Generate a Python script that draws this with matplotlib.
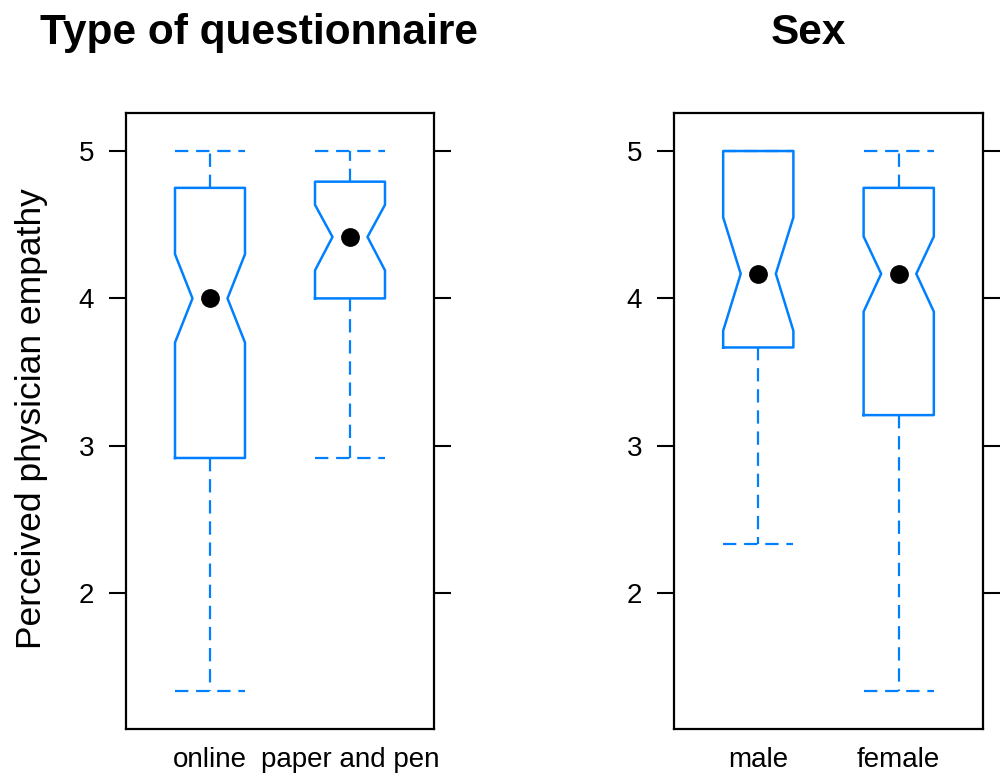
import matplotlib
matplotlib.use("Agg")
import matplotlib.pyplot as plt

plt.rcParams['font.family'] = ['Liberation Sans', 'DejaVu Sans']

# Panel 1: type of questionnaire
quest_groups = ["online", "paper and pen"]
quest_med = [4.0, 4.417]
quest_q1 = [2.917, 4.0]
quest_q3 = [4.75, 4.792]
quest_lo = [1.333, 2.917]
quest_hi = [5.0, 5.0]
quest_cilo = [3.70, 4.19]
quest_cihi = [4.30, 4.635]

# Panel 2: sex
sex_groups = ["male", "female"]
sex_med = [4.167, 4.167]
sex_q1 = [3.667, 3.208]
sex_q3 = [5.0, 4.75]
sex_lo = [2.333, 1.333]
sex_hi = [5.0, 5.0]
sex_cilo = [3.78, 3.91]
sex_cihi = [4.55, 4.42]

blue = '#0080ff'


def make_stats(labels, med, q1, q3, lo, hi, cilo, cihi):
    stats = []
    for i in range(len(labels)):
        stats.append(dict(label=labels[i], med=med[i], q1=q1[i], q3=q3[i],
                          whislo=lo[i], whishi=hi[i], cilo=cilo[i],
                          cihi=cihi[i], fliers=[]))
    return stats


def draw_panel(ax, stats, title, title_x):
    pos = list(range(1, len(stats) + 1))
    ax.bxp(stats, positions=pos, widths=0.5, capwidths=0.5, shownotches=True,
           showfliers=False,
           boxprops=dict(color=blue, lw=1.8),
           whiskerprops=dict(color=blue, lw=1.6, linestyle=(0, (6, 3.5))),
           capprops=dict(color=blue, lw=1.6, linestyle=(0, (6, 3.5))),
           medianprops=dict(visible=False))
    ax.plot(pos, [s['med'] for s in stats], 'o', color='black', markersize=12.5,
            zorder=5)
    ax.set_xlim(0.4, 2.6)
    ax.set_ylim(1.078, 5.258)
    ax.set_yticks([2, 3, 4, 5])
    ax.tick_params(axis='y', which='both', left=True, right=True,
                   length=12, width=1.5, labelsize=20, pad=11, direction='out')
    ax.tick_params(axis='x', length=0, labelsize=20, pad=13)
    for sp in ax.spines.values():
        sp.set_linewidth(1.6)
    fig.text(title_x, 1 - 44 / 774, title, fontsize=30.5, fontweight='bold',
             ha='center', va='baseline')


fig = plt.figure(figsize=(10.08, 7.74), dpi=100)
ax1 = fig.add_axes([126 / 1008, 45 / 774, 308 / 1008, 616 / 774])
ax2 = fig.add_axes([674 / 1008, 45 / 774, 309 / 1008, 616 / 774])

draw_panel(ax1, make_stats(quest_groups, quest_med, quest_q1, quest_q3, quest_lo,
                           quest_hi, quest_cilo, quest_cihi),
           "Type of questionnaire", 259.5 / 1008)
draw_panel(ax2, make_stats(sex_groups, sex_med, sex_q1, sex_q3, sex_lo,
                           sex_hi, sex_cilo, sex_cihi),
           "Sex", 808.5 / 1008)

fig.text(32 / 1008, 1 - 419 / 774, "Perceived physician empathy",
         rotation=90, fontsize=25.5, ha='center', va='center')

plt.savefig('out.png', dpi=100)
